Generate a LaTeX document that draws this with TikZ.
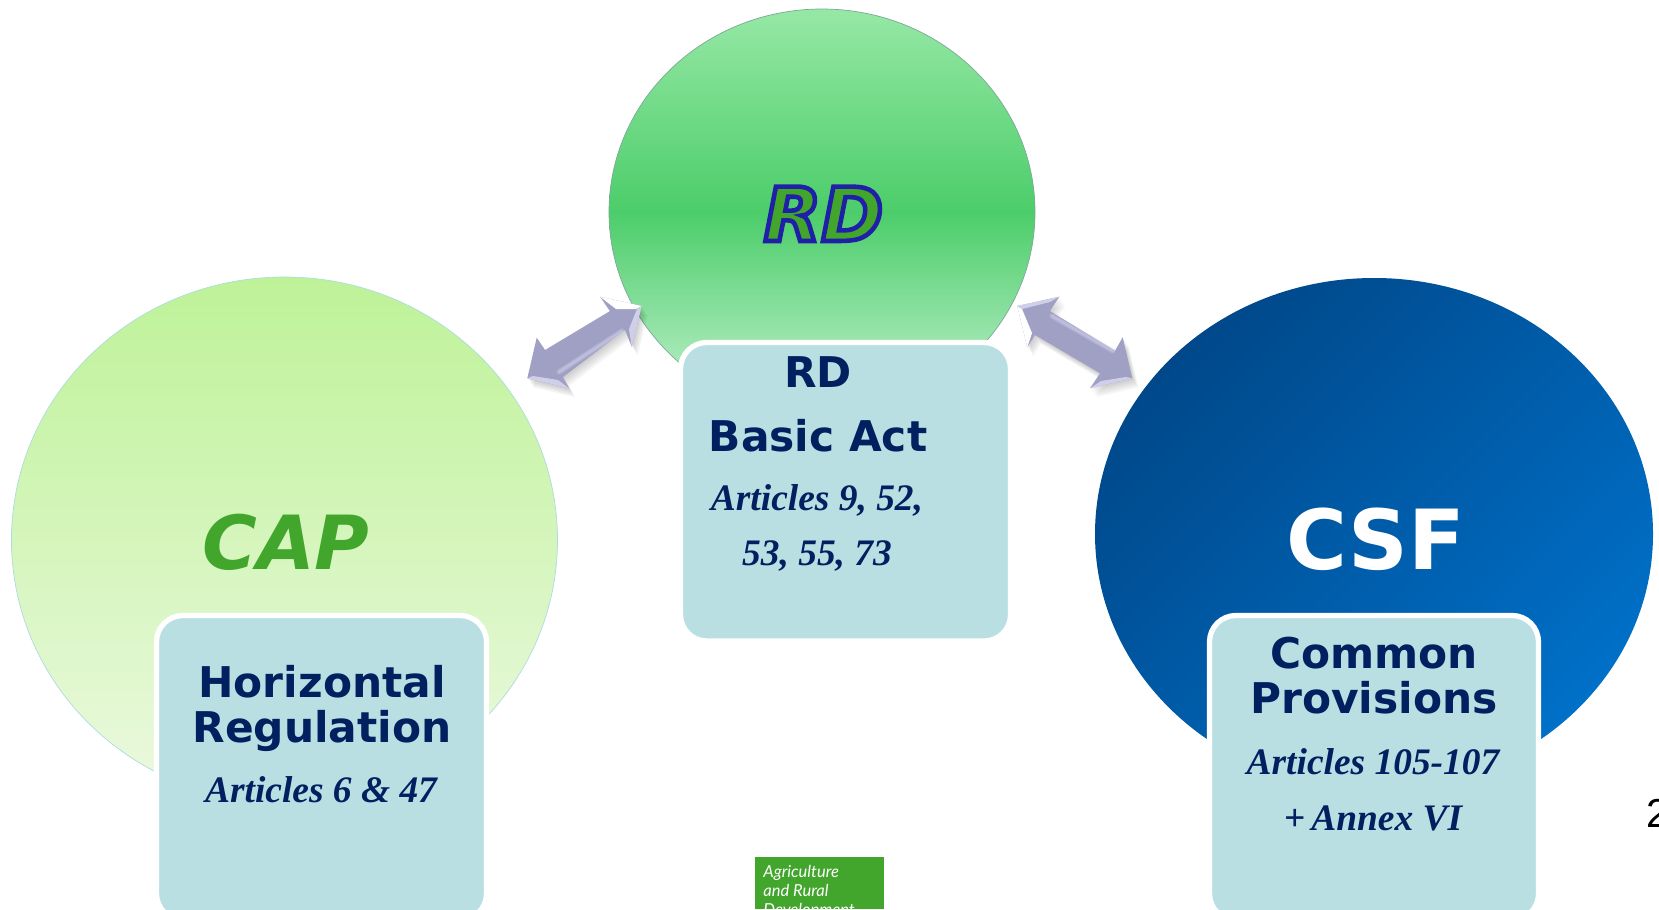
\documentclass[tikz,border=0pt]{standalone}
\usepackage{fontspec}
\usepackage{tikz}
\setmainfont{Liberation Serif}
\newfontfamily\headfont{DejaVu Sans}
\newfontfamily\logofont{Lato}
\newfontfamily\pagefont{Liberation Sans}
\definecolor{navytext}{HTML}{002060}
\definecolor{panelfill}{HTML}{B9DFE3}
\definecolor{leafgreen}{HTML}{43A62C}
\definecolor{arrowfill}{HTML}{A0A0C4}
\definecolor{arrowedge}{HTML}{CFCFEA}
\definecolor{captop}{HTML}{BEF298}
\definecolor{capbottom}{HTML}{ECF9E0}
\definecolor{capedge}{HTML}{ACDCE0}
\definecolor{rdtop}{HTML}{96E8A5}
\definecolor{rdmiddle}{HTML}{4CCD6A}
\definecolor{rdbottom}{HTML}{C8F3D4}
\definecolor{rdedge}{HTML}{7FA797}
\definecolor{csftop}{HTML}{00488A}
\definecolor{csfbottom}{HTML}{0070C8}
\tikzset{
	panel/.style={draw=white, line width=3pt, fill=panelfill, rounded corners=15pt},
	heading/.style={anchor=base, inner sep=0pt, text=navytext, font=\headfont\bfseries\fontsize{24.1}{26}\selectfont},
	articles/.style={anchor=base, inner sep=0pt, text=navytext, font=\bfseries\itshape\fontsize{21.3}{24}\selectfont},
	bigtitle/.style={anchor=base, inner sep=0pt},
	logotext/.style={anchor=base west, inner sep=0pt, text=white, font=\logofont\itshape\fontsize{9.4}{11}\selectfont},
}
\def\blockarrow#1{%
	\foreach \k in {1,...,5} {\fill[black, opacity=0.04, shift={(\k*1.2, \k*1.8)}] #1;}
	\fill[arrowfill] #1;}
\def\softline#1{%
	\foreach \w in {1,2,3} {\draw[arrowedge, opacity=0.3, line width=\w pt, line cap=round] #1;}}

\begin{document}
\begin{tikzpicture}[x=0.02cm, y=-0.02cm]
	%%%%% START %%%%%
	\useasboundingbox (0, 0) rectangle (1659, 909);
	
	\draw[draw=capedge, top color=captop, bottom color=capbottom] (284.5, 540) ellipse [x radius=273, y radius=263];
	\draw[draw=rdedge, top color=rdtop, bottom color=rdbottom, middle color=rdmiddle] (822, 212) ellipse [x radius=213, y radius=203];
	\shade[top color=csftop, bottom color=csfbottom, shading angle=45] (1374, 534) ellipse [x radius=279, y radius=256];
	
	\node[bigtitle, text=leafgreen, font=\headfont\bfseries\itshape\fontsize{42.5}{46}\selectfont] (captitle) at (286, 569) {CAP};
	\node[bigtitle, text=white, font=\headfont\bfseries\fontsize{47.2}{50}\selectfont] (csftitle) at (1376, 569) {CSF};
	\node[bigtitle, text=leafgreen, font=\headfont\bfseries\itshape\fontsize{42.5}{46}\selectfont] (rdtitle) at (823.5, 241) {\special{pdf:code q 2 Tr 2.6 w 0.12 0.12 0.66 RG}RD\special{pdf:code Q}};
	
	% left panel
	\draw[panel] (156.5, 615.5) rectangle (486.5, 920);
	\node[heading] (horizontal) at (322, 697) {Horizontal};
	\node[heading] (regulation) at (322, 742) {Regulation};
	\node[articles] (capart) at (321, 802) {Articles 6 \& 47};
	
	% middle panel
	\draw[panel] (680.5, 342.5) rectangle (1010.5, 641);
	\node[heading] (rdline) at (818, 387) {RD};
	\node[heading] (basicact) at (818, 451) {Basic Act};
	\node[articles] (rdartone) at (817, 510) {Articles 9, 52,};
	\node[articles] (rdarttwo) at (817, 565) {53, 55, 73};
	
	% right panel
	\draw[panel] (1209.5, 615.5) rectangle (1538.5, 920);
	\node[heading] (common) at (1374, 668) {Common};
	\node[heading] (provisions) at (1374, 713) {Provisions};
	\node[articles] (csfartone) at (1373, 774) {Articles 105-107};
	\node[articles] (csfarttwo) at (1373, 830) {+\,Annex VI};
	
	% left arrow
	\blockarrow{(641.7, 306) -- (631.7, 346.7) -- (625, 330) -- (563, 377) -- (569, 388.3) -- (527.3, 378.3) -- (536.7, 337.7) -- (545, 350) -- (610, 311) -- (600, 296.7) -- cycle}
	\fill[white] (600, 296.7) -- (641.7, 306) -- (636, 309) -- (616, 309) -- cycle;
	\fill[arrowedge] (641.7, 306) -- (631.7, 346.7) -- (629, 329) -- (637, 309) -- cycle;
	\fill[arrowedge] (527.3, 378.3) -- (569, 388.3) -- (558, 380) -- (533, 376) -- cycle;
	\softline{(559, 372) -- (622, 331)}
	
	% right arrow
	\blockarrow{(1017.3, 306) -- (1059.3, 296.7) -- (1050, 311) -- (1115, 350.7) -- (1122.7, 337.3) -- (1132.3, 378.3) -- (1090, 388.3) -- (1100, 373.3) -- (1035, 335) -- (1027.3, 347.3) -- cycle}
	\fill[white] (1017.3, 306) -- (1027.3, 347.3) -- (1032, 333) -- (1022, 309) -- cycle;
	\fill[arrowedge] (1017.3, 306) -- (1059.3, 296.7) -- (1050, 302) -- (1022, 309) -- cycle;
	\fill[arrowedge] (1090, 388.3) -- (1132.3, 378.3) -- (1126, 377) -- (1101, 381) -- cycle;
	\softline{(1052, 316) -- (1113, 351)}
	
	% logo
	\fill[leafgreen] (755, 857) rectangle (884, 909);
	\node[logotext] (logoone) at (763, 877) {Agriculture};
	\node[logotext] (logotwo) at (763, 896) {and Rural};
	\node[logotext] (logothree) at (763, 915) {Development};
	
	\node[anchor=base west, inner sep=0pt, font=\pagefont\fontsize{23}{25}\selectfont] (pagenum) at (1646, 827) {2};
	%%%%% END %%%%%
\end{tikzpicture}
\end{document}
